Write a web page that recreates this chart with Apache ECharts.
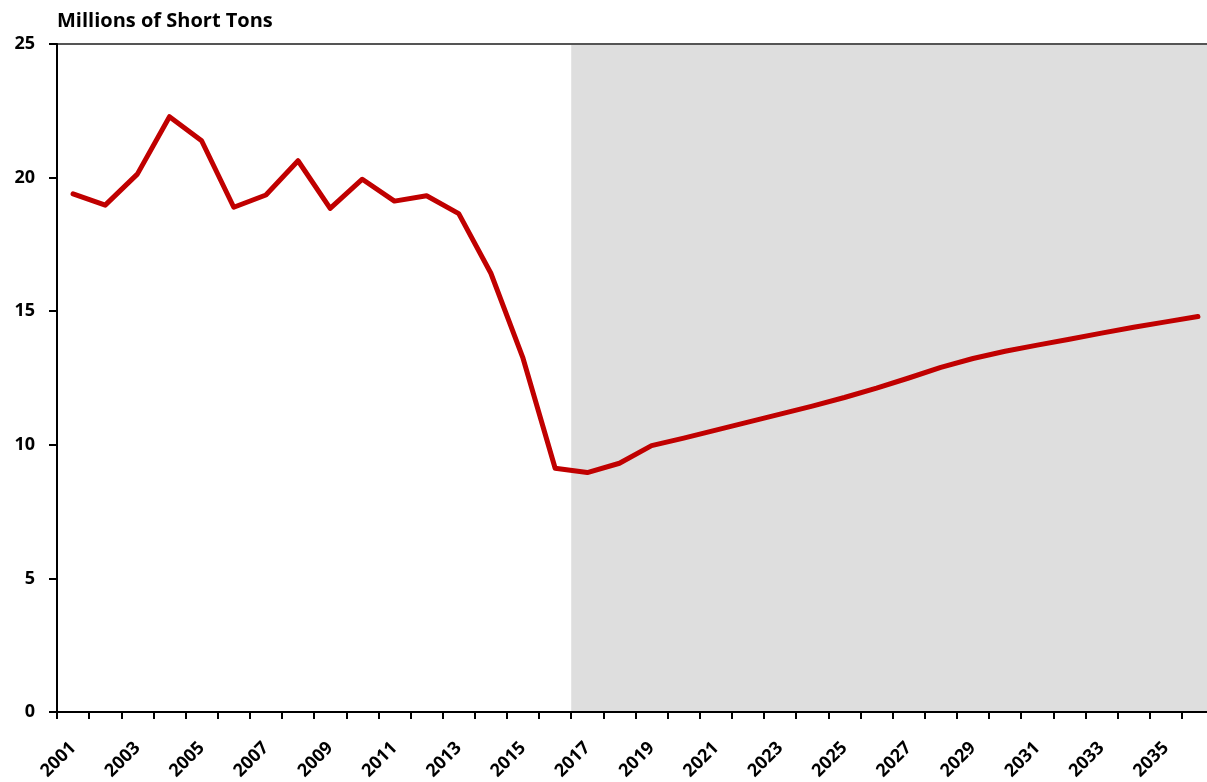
<!DOCTYPE html>
<html>
<head>
<meta charset="utf-8">
<script src="https://cdn.jsdelivr.net/npm/echarts@6/dist/echarts.min.js"></script>
<style>
  html, body { margin: 0; padding: 0; background: #fff; }
  #chart { width: 1207px; height: 782px; }
</style>
</head>
<body>
<div id="chart"></div>
<script>
const years = ['2001', '2002', '2003', '2004', '2005', '2006', '2007', '2008', '2009', '2010',
  '2011', '2012', '2013', '2014', '2015', '2016', '2017', '2018', '2019', '2020',
  '2021', '2022', '2023', '2024', '2025', '2026', '2027', '2028', '2029', '2030',
  '2031', '2032', '2033', '2034', '2035', '2036'];

const tons = [19.39, 18.97, 20.13, 22.28, 21.38, 18.89, 19.35, 20.63, 18.85, 19.94,
  19.12, 19.32, 18.65, 16.42, 13.24, 9.12, 8.96, 9.31, 9.97, 10.25,
  10.55, 10.85, 11.15, 11.45, 11.77, 12.12, 12.5, 12.9, 13.23, 13.5,
  13.73, 13.95, 14.18, 14.4, 14.6, 14.8];

const forecastStart = '2017';
const yTicks = [0, 5, 10, 15, 20, 25];

const startIdx = years.indexOf(forecastStart);

const font = '"Open Sans", Lato, sans-serif';

const chart = echarts.init(document.getElementById('chart'));
const option = {
  animation: false,
  backgroundColor: '#fff',
  title: {
    text: 'Millions of Short Tons',
    left: 52,
    top: 6,
    textStyle: { fontFamily: font, fontWeight: 'bold', fontSize: 20, color: '#000' },
  },
  // plot runs a few px past the right edge, like the cropped original
  grid: { left: 57, top: 44, width: 1157, height: 668, containLabel: false, outerBoundsMode: 'none' },
  xAxis: [
    {
      type: 'category',
      data: years,
      boundaryGap: true,
      axisLine: { lineStyle: { color: '#000', width: 2 } },
      axisTick: { show: true, interval: 0, length: 7, lineStyle: { color: '#000', width: 2 } },
      axisLabel: {
        interval: 1,
        rotate: 45,
        margin: 33,
        fontFamily: font,
        fontWeight: 'bold',
        fontSize: 18,
        color: '#000',
      },
      splitLine: { show: false },
      z: 5,
    },
    {
      // hidden helper axis for the forecast shading
      type: 'value',
      min: 0,
      max: years.length,
      show: false,
    },
  ],
  yAxis: {
    type: 'value',
    min: yTicks[0],
    max: yTicks[yTicks.length - 1],
    interval: 5,
    axisLine: { show: true, lineStyle: { color: '#000', width: 2 } },
    axisTick: { show: true, length: 8, lineStyle: { color: '#000', width: 2 } },
    axisLabel: {
      margin: 22,
      fontFamily: font,
      fontWeight: 'bold',
      fontSize: 18,
      color: '#000',
    },
    splitLine: { show: false },
    z: 5,
  },
  series: [
    {
      type: 'line',
      xAxisIndex: 1,
      data: [],
      silent: true,
      markArea: {
        silent: true,
        itemStyle: { color: '#dedede' },
        data: [[{ xAxis: startIdx }, { xAxis: years.length }]],
      },
      markLine: {
        silent: true,
        symbol: 'none',
        label: { show: false },
        lineStyle: { color: '#555', width: 2, type: 'solid' },
        data: [{ yAxis: yTicks[yTicks.length - 1] }],
      },
      z: 1,
    },
    {
      type: 'line',
      data: tons,
      showSymbol: false,
      lineStyle: { color: '#c00000', width: 5, cap: 'round', join: 'round' },
      itemStyle: { color: '#c00000' },
      z: 3,
    },
  ],
};
chart.setOption(option);
</script>
</body>
</html>
